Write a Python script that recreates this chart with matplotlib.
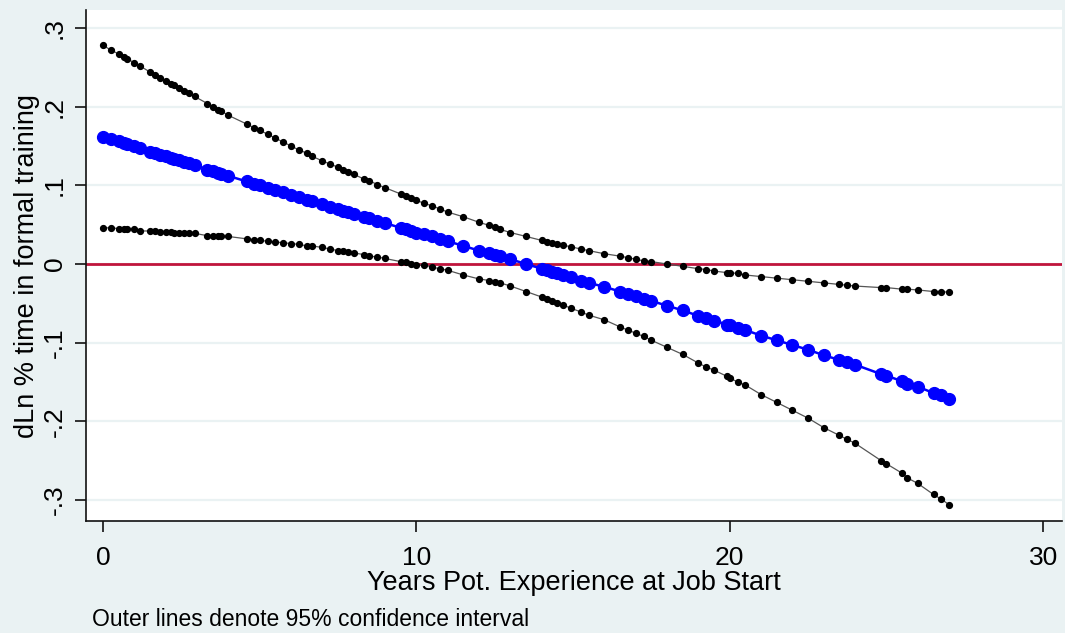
import matplotlib
matplotlib.use("Agg")
import matplotlib.pyplot as plt

exper = [0, 0.25, 0.5, 0.67, 0.75, 1.0, 1.17, 1.5, 1.67, 1.83, 2.0, 2.17, 2.25, 2.42, 2.58, 2.75, 2.92,
         3.33, 3.5, 3.67, 3.75, 4.0, 4.58, 4.83, 5.0, 5.25, 5.5, 5.75, 6.0, 6.25, 6.5, 6.67, 7.0, 7.25,
         7.5, 7.67, 7.83, 8.0, 8.33, 8.5, 8.75, 9.0, 9.5, 9.67, 9.83, 10.0, 10.25, 10.5, 10.75, 11.0,
         11.5, 12.0, 12.33, 12.5, 12.67, 13.0, 13.5, 14.0, 14.17, 14.33, 14.5, 14.67, 14.92, 15.25, 15.5,
         16.0, 16.5, 16.75, 17.0, 17.25, 17.5, 18.0, 18.5, 19.0, 19.25, 19.5, 19.92, 20.0, 20.25, 20.5,
         21.0, 21.5, 22.0, 22.5, 23.0, 23.5, 23.75, 24.0, 24.83, 25.0, 25.5, 25.67, 26.0, 26.5, 26.75, 27.0]

effect = [0.162, 0.159, 0.156, 0.154, 0.153, 0.150, 0.147, 0.143, 0.141, 0.139, 0.137, 0.135, 0.134,
          0.132, 0.130, 0.128, 0.126, 0.120, 0.118, 0.116, 0.115, 0.112, 0.105, 0.102, 0.100, 0.097,
          0.094, 0.091, 0.088, 0.085, 0.082, 0.080, 0.076, 0.073, 0.070, 0.068, 0.066, 0.064, 0.060,
          0.058, 0.055, 0.052, 0.046, 0.044, 0.042, 0.040, 0.038, 0.035, 0.032, 0.029, 0.023, 0.017,
          0.014, 0.012, 0.010, 0.006, 0.000, -0.006, -0.008, -0.010, -0.012, -0.014, -0.017, -0.021,
          -0.024, -0.029, -0.035, -0.038, -0.041, -0.044, -0.047, -0.053, -0.059, -0.066, -0.069,
          -0.072, -0.077, -0.078, -0.081, -0.084, -0.091, -0.097, -0.103, -0.109, -0.116, -0.122,
          -0.125, -0.128, -0.140, -0.142, -0.149, -0.152, -0.156, -0.164, -0.167, -0.171]

upper = [0.278, 0.272, 0.267, 0.263, 0.261, 0.256, 0.252, 0.244, 0.240, 0.237, 0.233, 0.229, 0.228,
         0.224, 0.220, 0.217, 0.213, 0.204, 0.200, 0.196, 0.195, 0.189, 0.178, 0.173, 0.170, 0.165,
         0.160, 0.155, 0.150, 0.145, 0.141, 0.137, 0.131, 0.127, 0.123, 0.120, 0.117, 0.114, 0.108,
         0.106, 0.101, 0.097, 0.089, 0.086, 0.084, 0.081, 0.077, 0.074, 0.070, 0.066, 0.060, 0.053,
         0.049, 0.047, 0.044, 0.040, 0.035, 0.030, 0.028, 0.027, 0.025, 0.024, 0.022, 0.019, 0.017,
         0.013, 0.010, 0.008, 0.006, 0.004, 0.003, 0.000, -0.003, -0.006, -0.007, -0.009, -0.011,
         -0.011, -0.012, -0.014, -0.016, -0.018, -0.020, -0.022, -0.024, -0.026, -0.027, -0.028,
         -0.030, -0.030, -0.032, -0.032, -0.033, -0.035, -0.035, -0.036]

lower = [0.046, 0.046, 0.045, 0.045, 0.045, 0.044, 0.042, 0.042, 0.042, 0.041, 0.041, 0.041, 0.040,
         0.040, 0.040, 0.039, 0.039, 0.036, 0.036, 0.036, 0.035, 0.035, 0.032, 0.031, 0.030, 0.029,
         0.028, 0.027, 0.026, 0.025, 0.023, 0.023, 0.021, 0.019, 0.017, 0.016, 0.015, 0.014, 0.012,
         0.010, 0.009, 0.007, 0.003, 0.002, 0.000, -0.001, -0.001, -0.004, -0.006, -0.008, -0.014,
         -0.019, -0.021, -0.023, -0.024, -0.028, -0.035, -0.042, -0.044, -0.047, -0.049, -0.052,
         -0.056, -0.061, -0.065, -0.071, -0.080, -0.084, -0.088, -0.092, -0.097, -0.106, -0.115,
         -0.126, -0.131, -0.135, -0.143, -0.145, -0.150, -0.154, -0.166, -0.176, -0.186, -0.196,
         -0.208, -0.218, -0.223, -0.228, -0.250, -0.254, -0.266, -0.272, -0.279, -0.293, -0.299, -0.306]

xticks = [0, 10, 20, 30]
yticks = [-0.3, -0.2, -0.1, 0, 0.1, 0.2, 0.3]
ytick_labels = ["-.3", "-.2", "-.1", "0", ".1", ".2", ".3"]

plt.rcParams['font.family'] = ['Liberation Sans', 'DejaVu Sans']
bg = '#eaf2f3'

fig = plt.figure(figsize=(10.65, 6.33), dpi=100, facecolor=bg)
ax = fig.add_axes([86/1065, 1-521/633, (1062-86)/1065, (521-10)/633])
ax.set_facecolor('white')

ax.set_xlim(-0.543, 30.6)
ax.set_ylim(-0.3267, 0.3229)

for yt in yticks:
    ax.axhline(yt, color=bg, lw=1.6, zorder=0)
ax.axhline(0, color='#c0143c', lw=2.0, zorder=1)

ax.plot(exper, upper, color='#555555', lw=0.9, marker='o', ms=4.2, mfc='black', mec='black', zorder=3)
ax.plot(exper, lower, color='#555555', lw=0.9, marker='o', ms=4.2, mfc='black', mec='black', zorder=3)
ax.plot(exper, effect, color='#0000ff', lw=1.8, marker='o', ms=8.5, mfc='#0000ff', mec='#0000ff', zorder=4)

for s in ['top', 'right']:
    ax.spines[s].set_visible(False)
for s in ['left', 'bottom']:
    ax.spines[s].set_color('#111111')
    ax.spines[s].set_linewidth(1.2)

ax.set_xticks(xticks)
ax.set_xticklabels([str(t) for t in xticks])
ax.set_yticks(yticks)
ax.set_yticklabels(ytick_labels, rotation=90, va='center')
ax.tick_params(axis='both', direction='out', length=8, width=1.2, color='#111111', labelsize=19)
ax.tick_params(axis='x', pad=10)
ax.tick_params(axis='y', pad=6)

ax.set_xlabel("Years Pot. Experience at Job Start", fontsize=19.5, labelpad=0)
ax.set_ylabel("dLn % time in formal training", fontsize=19.5, labelpad=2)

fig.text(92/1065, 1-619/633, "Outer lines denote 95% confidence interval", fontsize=16.5, va='center', ha='left')

fig.savefig("out.png", dpi=100, facecolor=bg)
